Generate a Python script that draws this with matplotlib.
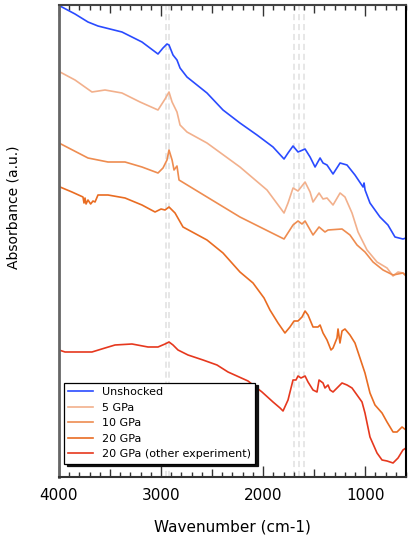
import numpy as np
import matplotlib
matplotlib.use("Agg")
import matplotlib.pyplot as plt
from matplotlib.ticker import MultipleLocator, FixedLocator

# Spectra (wavenumber in cm-1, absorbance in a.u.)
wn_unshocked = [4000, 3990, 3843, 3716, 3618, 3383, 3187, 3030, 2981, 2942, 2922, 2883,
                2844, 2814, 2746, 2550, 2393, 2227, 2060, 1903, 1795, 1756, 1707, 1658,
                1589, 1540, 1491, 1442, 1413, 1374, 1315, 1246, 1178, 1100, 1021, 1011,
                1001, 953, 855, 777, 708, 630, 600]
ab_unshocked = [4.72, 4.71, 4.63, 4.55, 4.51, 4.45, 4.35, 4.23, 4.29, 4.33, 4.32, 4.22,
                4.17, 4.09, 4.00, 3.84, 3.67, 3.54, 3.42, 3.30, 3.18, 3.24, 3.31, 3.25,
                3.28, 3.20, 3.10, 3.19, 3.14, 3.12, 3.03, 3.14, 3.12, 3.02, 2.90, 2.94,
                2.87, 2.74, 2.60, 2.52, 2.40, 2.38, 2.39]

wn_5gpa = [4000, 3990, 3843, 3677, 3549, 3383, 3206, 3030, 2961, 2922, 2892, 2844, 2814,
           2746, 2550, 2227, 1962, 1795, 1756, 1707, 1658, 1589, 1540, 1511, 1452, 1413,
           1374, 1315, 1246, 1198, 1129, 1070, 982, 884, 786, 727, 678, 630, 600]
ab_5gpa = [4.07, 4.05, 3.97, 3.85, 3.87, 3.84, 3.75, 3.67, 3.78, 3.85, 3.75, 3.65, 3.52,
           3.45, 3.34, 3.10, 2.87, 2.64, 2.74, 2.89, 2.86, 2.95, 2.85, 2.75, 2.84, 2.78,
           2.79, 2.72, 2.84, 2.80, 2.64, 2.45, 2.27, 2.15, 2.09, 2.01, 2.05, 2.04, 2.02]

wn_10gpa = [4000, 3716, 3520, 3353, 3187, 3030, 2981, 2942, 2922, 2892, 2873, 2844, 2824,
            2550, 2227, 1933, 1795, 1707, 1658, 1619, 1589, 1511, 1452, 1394, 1364, 1227,
            1149, 1080, 1002, 923, 825, 727, 630, 600]
ab_10gpa = [3.34, 3.19, 3.15, 3.15, 3.10, 3.04, 3.09, 3.17, 3.27, 3.17, 3.07, 3.11, 2.97,
            2.80, 2.60, 2.45, 2.38, 2.52, 2.56, 2.53, 2.56, 2.42, 2.50, 2.45, 2.47, 2.48,
            2.42, 2.32, 2.25, 2.15, 2.07, 2.02, 2.04, 2.01]

wn_20gpa = [4000, 3990, 3873, 3765, 3755, 3745, 3735, 3716, 3690, 3667, 3647, 3618, 3520,
            3353, 3187, 3059, 3000, 2961, 2922, 2863, 2785, 2550, 2393, 2227, 2099, 1991,
            1933, 1854, 1786, 1737, 1697, 1658, 1619, 1589, 1560, 1511, 1462, 1442, 1413,
            1374, 1335, 1315, 1276, 1266, 1247, 1227, 1198, 1149, 1100, 1051, 1002, 953,
            904, 835, 786, 727, 688, 639, 600]
ab_20gpa = [2.92, 2.90, 2.85, 2.80, 2.74, 2.79, 2.73, 2.77, 2.73, 2.76, 2.75, 2.82, 2.82,
            2.79, 2.72, 2.65, 2.68, 2.67, 2.70, 2.64, 2.50, 2.37, 2.24, 2.05, 1.94, 1.79,
            1.67, 1.54, 1.44, 1.50, 1.56, 1.56, 1.60, 1.66, 1.62, 1.50, 1.50, 1.52, 1.44,
            1.37, 1.27, 1.29, 1.39, 1.48, 1.34, 1.46, 1.48, 1.42, 1.34, 1.19, 1.04, 0.84,
            0.72, 0.64, 0.55, 0.45, 0.45, 0.50, 0.47]

wn_20gpa_b = [4000, 3941, 3843, 3677, 3549, 3451, 3285, 3128, 3030, 2961, 2922, 2883, 2834,
              2736, 2589, 2452, 2344, 2148, 2011, 1903, 1834, 1805, 1756, 1707, 1678, 1658,
              1629, 1589, 1560, 1511, 1472, 1452, 1413, 1394, 1364, 1344, 1315, 1266, 1227,
              1178, 1129, 1080, 1031, 1002, 953, 884, 835, 786, 727, 678, 630, 600]
ab_20gpa_b = [1.27, 1.25, 1.25, 1.25, 1.29, 1.32, 1.33, 1.30, 1.30, 1.33, 1.35, 1.32, 1.27,
              1.22, 1.17, 1.12, 1.05, 0.96, 0.85, 0.75, 0.69, 0.66, 0.77, 0.97, 0.97, 1.01,
              0.99, 1.01, 0.95, 0.87, 0.85, 0.97, 0.94, 0.89, 0.92, 0.87, 0.85, 0.90, 0.94,
              0.92, 0.89, 0.82, 0.75, 0.64, 0.40, 0.24, 0.17, 0.16, 0.14, 0.19, 0.27, 0.29]

labels = ["Unshocked", "5 GPa", "10 GPa", "20 GPa", "20 GPa (other experiment)"]
colors = ["#2a4bff", "#f2b08c", "#ee8c50", "#e96c22", "#e6381e"]

# band positions marked with dashed lines
bands = [2955, 2920, 1700, 1650, 1595]


def main():
    fig = plt.figure(figsize=(4.08, 5.38), dpi=100)
    ax = fig.add_axes([0.1446, 0.1134, 0.8505, 0.8773])

    for b in bands:
        ax.axvline(b, color="#e0e0e0", linestyle=(0, (4, 2.5)), linewidth=1.1, zorder=1)

    series = [(wn_unshocked, ab_unshocked), (wn_5gpa, ab_5gpa), (wn_10gpa, ab_10gpa),
              (wn_20gpa, ab_20gpa), (wn_20gpa_b, ab_20gpa_b)]
    for (x, y), lab, c in zip(series, labels, colors):
        ax.plot(x, y, color=c, linewidth=1.2, label=lab, zorder=2)

    ax.set_xlim(4000, 600)
    ax.set_ylim(0, 4.72)
    ax.set_yticks([])

    ax.xaxis.set_major_locator(FixedLocator([4000, 3000, 2000, 1000]))
    ax.xaxis.set_minor_locator(MultipleLocator(100))
    ax.tick_params(axis="x", which="both", direction="in", top=True, bottom=True,
                   labelsize=11, pad=8, color="#333333")
    ax.tick_params(axis="x", which="major", length=8, width=1)
    ax.tick_params(axis="x", which="minor", length=3.5, width=1)
    for tick, loc in zip(ax.xaxis.get_minor_ticks(), ax.xaxis.get_minorticklocs()):
        if abs(loc % 500) < 1e-6:
            tick.tick1line.set_markersize(5.5)
            tick.tick2line.set_markersize(5.5)

    ax.spines["left"].set_color("#666666")
    ax.spines["left"].set_linewidth(2)
    ax.spines["bottom"].set_color("#333333")
    ax.spines["bottom"].set_linewidth(1.5)
    ax.spines["top"].set_color("#444444")
    ax.spines["top"].set_linewidth(1.5)
    ax.spines["right"].set_color("black")
    ax.spines["right"].set_linewidth(1.5)

    ax.set_xlabel("Wavenumber (cm-1)", fontsize=11, labelpad=12)
    ax.set_ylabel("Absorbance (a.u.)", fontsize=10)
    ax.yaxis.set_label_coords(-0.11, 0.572)

    leg = ax.legend(loc="upper left", bbox_to_anchor=(0.014, 0.2), borderaxespad=0,
                    fontsize=8, frameon=True, fancybox=False, framealpha=1,
                    edgecolor="black", handlelength=2.2, labelspacing=0.5,
                    borderpad=0.4, shadow={"color": "#111111", "alpha": 1})
    leg.get_frame().set_linewidth(0.9)
    leg.set_zorder(5)

    fig.savefig("out.png", dpi=100)


if __name__ == "__main__":
    main()
